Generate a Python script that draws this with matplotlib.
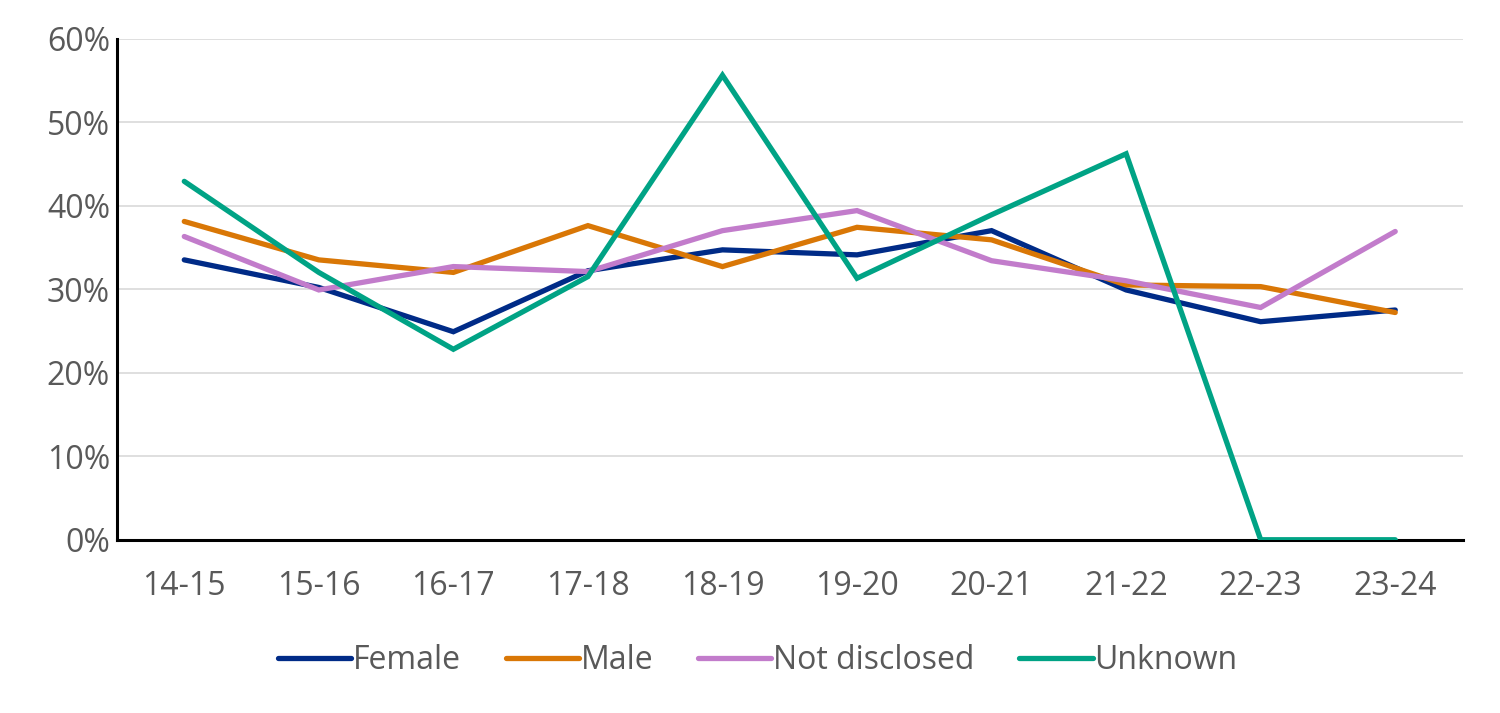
import numpy as np
import matplotlib
matplotlib.use("Agg")
import matplotlib.pyplot as plt
from matplotlib.ticker import PercentFormatter

years = ["14-15", "15-16", "16-17", "17-18", "18-19", "19-20", "20-21", "21-22", "22-23", "23-24"]
female = [33.5, 30.2, 24.9, 32.2, 34.7, 34.1, 37.0, 29.9, 26.1, 27.5]
male = [38.1, 33.5, 32.0, 37.6, 32.7, 37.4, 35.9, 30.5, 30.3, 27.2]
not_disclosed = [36.3, 29.9, 32.7, 32.1, 37.0, 39.4, 33.4, 31.0, 27.8, 36.9]
unknown = [42.9, 32.0, 22.8, 31.5, 55.6, 31.3, 38.9, 46.2, 0.0, 0.0]

plt.rcParams['font.family'] = ['Open Sans', 'DejaVu Sans']
text_col = '#595959'

fig = plt.figure(figsize=(15, 7.13), dpi=100)
ax = fig.add_axes([0.078, 0.243, 0.897, 0.703])

x = np.arange(len(years))
series = [(female, '#002b87', 'Female'),
          (male, '#d97706', 'Male'),
          (not_disclosed, '#c27ccb', 'Not disclosed'),
          (unknown, '#00a385', 'Unknown')]
for vals, col, name in series:
    ax.plot(x, vals, color=col, lw=3.8, label=name, solid_capstyle='round', solid_joinstyle='miter')

ax.set_xlim(-0.5, len(years) - 0.5)
ax.set_ylim(0, 60)
ax.set_yticks(np.arange(0, 61, 10))
ax.yaxis.set_major_formatter(PercentFormatter(decimals=0))
ax.set_xticks(x)
ax.set_xticklabels(years)
ax.grid(axis='y', color='#d9d9d9', lw=1.2)
ax.set_axisbelow(True)
for s in ['top', 'right']:
    ax.spines[s].set_visible(False)
ax.spines['left'].set_linewidth(2.2)
ax.spines['bottom'].set_linewidth(2.2)
ax.spines['left'].set_color('black')
ax.spines['bottom'].set_color('black')
ax.spines['bottom'].set_zorder(1)
ax.tick_params(axis='both', length=0, labelsize=23, colors=text_col)
ax.tick_params(axis='x', pad=22)
ax.tick_params(axis='y', pad=5)

leg = fig.legend(loc='center', bbox_to_anchor=(0.505, 0.073), ncol=4, frameon=False,
                 fontsize=23, handlelength=2.3, handletextpad=0.05, columnspacing=1.4)
for t in leg.get_texts():
    t.set_color(text_col)

fig.savefig("out.png", dpi=100)
